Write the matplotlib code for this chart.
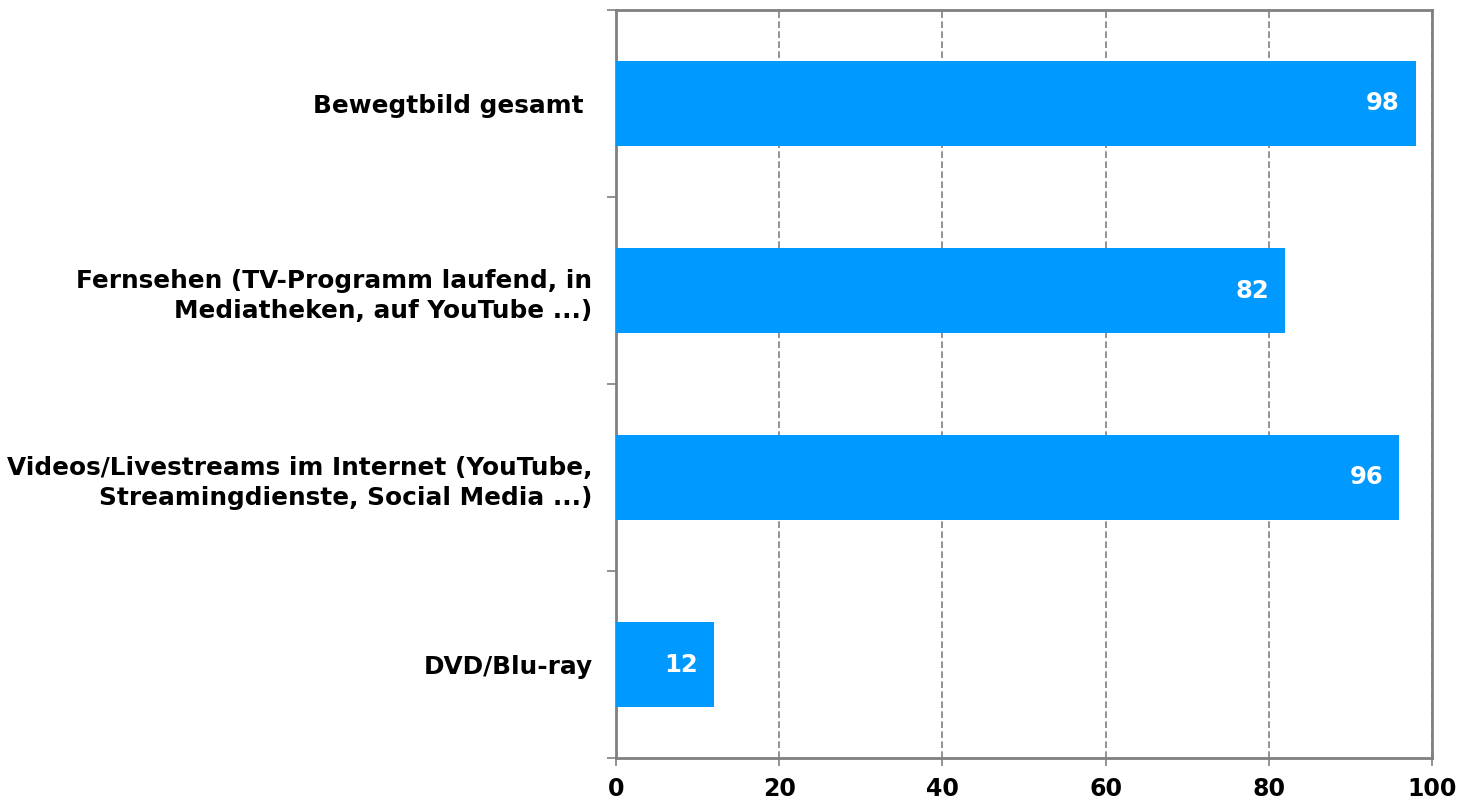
import matplotlib.pyplot as plt
import numpy as np

kategorien = [
    "Bewegtbild gesamt ",
    "Fernsehen (TV-Programm laufend, in\nMediatheken, auf YouTube ...)",
    "Videos/Livestreams im Internet (YouTube,\nStreamingdienste, Social Media ...)",
    "DVD/Blu-ray",
]
werte = [98, 82, 96, 12]
x_ticks = [0, 20, 40, 60, 80, 100]

plt.rcParams['font.family'] = 'DejaVu Sans'
plt.rcParams['font.weight'] = 'bold'

fig = plt.figure(figsize=(14.62, 8.02), dpi=100)
ax = fig.add_axes([616 / 1462, 1 - 758 / 802, (1432 - 616) / 1462, (758 - 10) / 802])

pos = np.arange(len(kategorien))
ax.barh(pos, werte, height=0.45, color='#0099FF', zorder=3)

for p, w in zip(pos, werte):
    ax.text(w - 2, p, str(w), color='white', fontsize=17.5, fontweight='bold',
            ha='right', va='center', zorder=4)

ax.set_xlim(0, 100)
ax.set_ylim(len(kategorien) - 0.5, -0.5)
ax.set_xticks(x_ticks)
ax.set_xticklabels([str(t) for t in x_ticks], fontsize=17, fontweight='bold')

# Kategorien als Beschriftung, Teilstriche an den Grenzen
ax.set_yticks(pos)
ax.set_yticklabels(kategorien, fontsize=17.8, fontweight='bold', ha='right',
                   linespacing=1.3)
ax.tick_params(axis='y', which='major', length=0, pad=17)
ax.set_yticks(np.arange(-0.5, len(kategorien)), minor=True)
ax.tick_params(axis='y', which='minor', length=6.5, width=1.2, color='#808080', direction='out')
ax.tick_params(axis='x', length=6, width=1.2, color='#808080', direction='out', pad=8)

ax.grid(axis='x', color='#808080', linestyle=(0, (4, 2)), linewidth=1.2, zorder=0)
for s in ax.spines.values():
    s.set_color('#808080')
    s.set_linewidth(2)

fig.savefig('out.png', dpi=100)
